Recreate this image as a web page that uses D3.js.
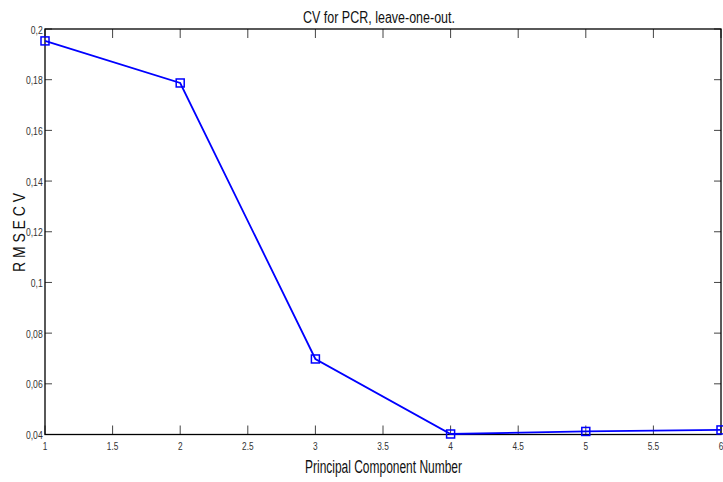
<!DOCTYPE html>
<html><head><meta charset="utf-8">
<script src="https://cdn.jsdelivr.net/npm/d3@7"></script>
<style>
body{margin:0;background:#fff;}
text{font-family:"Liberation Sans","Arial",sans-serif;}
</style></head>
<body><svg id="c" width="723" height="482"></svg>
<script>
const components = [1, 2, 3, 4, 5, 6];
const rmsecv = [0.1953, 0.1787, 0.0698, 0.0402, 0.0412, 0.0418];
const xTicks = [1, 1.5, 2, 2.5, 3, 3.5, 4, 4.5, 5, 5.5, 6];
const yTicks = [0.04, 0.06, 0.08, 0.1, 0.12, 0.14, 0.16, 0.18, 0.2];
const yTickLabels = ["0,04","0,06","0,08","0,1","0,12","0,14","0,16","0,18","0,2"];

const svg = d3.select("#c");
const L = 45, R = 721, T = 29, B = 434.5;
const x = d3.scaleLinear().domain([1, 6]).range([L, R]);
const y = d3.scaleLinear().domain([0.04, 0.2]).range([B, T]);

const g = svg.append("g");
xTicks.forEach(t => {
  g.append("line").attr("x1", x(t)).attr("x2", x(t)).attr("y1", B).attr("y2", B - 9).attr("stroke", "#444");
  g.append("line").attr("x1", x(t)).attr("x2", x(t)).attr("y1", T).attr("y2", T + 9).attr("stroke", "#444");
});
yTicks.forEach(t => {
  g.append("line").attr("x1", L).attr("x2", L + 7).attr("y1", y(t)).attr("y2", y(t)).attr("stroke", "#444");
  g.append("line").attr("x1", R).attr("x2", R - 7).attr("y1", y(t)).attr("y2", y(t)).attr("stroke", "#444");
});
svg.append("rect").attr("x", L).attr("y", T).attr("width", R - L).attr("height", B - T)
  .attr("fill", "none").attr("stroke", "#000").attr("stroke-width", 1.3);

xTicks.forEach(t => {
  svg.append("text").attr("transform", `translate(${x(t)},${B + 15.5}) scale(0.72,1)`)
    .attr("text-anchor", "middle").attr("font-size", 11.5).attr("fill", "#333").text(String(t));
});
yTicks.forEach((t, i) => {
  svg.append("text").attr("transform", `translate(${L - 2.3},${y(t) + 4.5}) scale(0.75,1)`)
    .attr("text-anchor", "end").attr("font-size", 11.5).attr("fill", "#333").text(yTickLabels[i]);
});

const line = d3.line().x((d, i) => x(components[i])).y(d => y(d));
svg.append("path").datum(rmsecv).attr("d", line).attr("fill", "none")
  .attr("stroke", "#0000ff").attr("stroke-width", 1.8);
svg.selectAll("rect.m").data(rmsecv).enter().append("rect").attr("class", "m")
  .attr("x", (d, i) => x(components[i]) - 4).attr("y", d => y(d) - 4)
  .attr("width", 8).attr("height", 8).attr("fill", "none")
  .attr("stroke", "#0000ff").attr("stroke-width", 1.5);

svg.append("text").attr("x", 303).attr("y", 22.7)
  .attr("textLength", 152).attr("lengthAdjust", "spacingAndGlyphs")
  .attr("font-size", 16).attr("fill", "#111").text("CV for PCR, leave-one-out.");
svg.append("text").attr("x", 305).attr("y", 472.7)
  .attr("textLength", 157).attr("lengthAdjust", "spacingAndGlyphs")
  .attr("font-size", 18).attr("fill", "#111").text("Principal Component Number");
svg.append("text").attr("transform", "translate(25,272) rotate(-90)")
  .attr("textLength", 79).attr("lengthAdjust", "spacingAndGlyphs")
  .attr("font-size", 17).attr("fill", "#111").text("R M S E C V");
</script></body></html>
